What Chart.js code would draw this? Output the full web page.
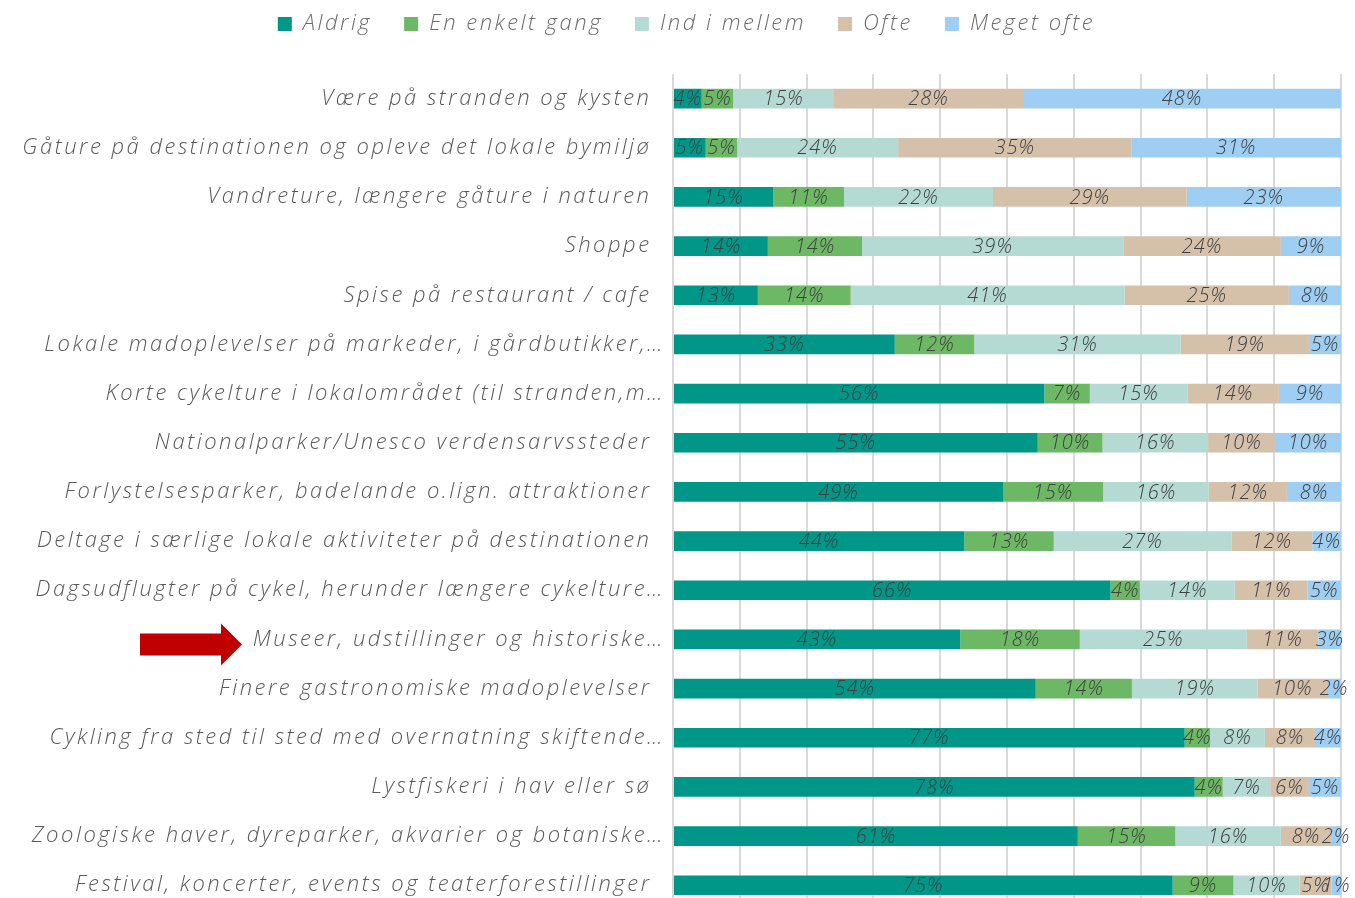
<!DOCTYPE html>
<html lang="da">
<head>
    <meta charset="UTF-8">
    <title>Aktiviteter på ferien</title>
    <script src="https://cdn.jsdelivr.net/npm/chart.js"></script>
    <style>
        html, body {
            margin: 0;
            padding: 0;
            background: #ffffff;
            overflow: hidden;
        }
        canvas {
            display: block;
        }
    </style>
</head>
<body>

    <canvas id="activityChart" width="1355" height="923"></canvas>

    <script>
        const categories = [
            'Være på stranden og kysten',
            'Gåture på destinationen og opleve det lokale bymiljø',
            'Vandreture, længere gåture i naturen',
            'Shoppe',
            'Spise på restaurant / cafe',
            'Lokale madoplevelser på markeder, i gårdbutikker,…',
            'Korte cykelture i lokalområdet (til stranden,m…',
            'Nationalparker/Unesco verdensarvssteder',
            'Forlystelsesparker, badelande o.lign. attraktioner',
            'Deltage i særlige lokale aktiviteter på destinationen',
            'Dagsudflugter på cykel, herunder længere cykelture…',
            'Museer, udstillinger og historiske…',
            'Finere gastronomiske madoplevelser',
            'Cykling fra sted til sted med overnatning skiftende…',
            'Lystfiskeri i hav eller sø',
            'Zoologiske haver, dyreparker, akvarier og botaniske…',
            'Festival, koncerter, events og teaterforestillinger'
        ];

        const seriesNames = ['Aldrig', 'En enkelt gang', 'Ind i mellem', 'Ofte', 'Meget ofte'];

        // andel i procent, læst af grafen
        const aldrig      = [4.3, 4.9, 15.0, 14.2, 12.7, 33.2, 55.6, 54.6, 49.4, 43.6, 65.5, 43.0, 54.3, 76.6, 78.1, 60.6, 74.8];
        const enkeltGang  = [4.7, 4.7, 10.6, 14.1, 13.9, 11.9, 6.8, 9.7, 15.0, 13.4, 4.4, 17.9, 14.4, 3.8, 4.2, 14.6, 9.1];
        const indIMellem  = [15.1, 24.1, 22.3, 39.1, 41.0, 30.9, 14.6, 15.8, 15.8, 26.6, 14.2, 25.0, 18.8, 8.2, 7.1, 15.8, 9.9];
        const ofte        = [28.3, 34.9, 29.0, 23.6, 24.6, 19.2, 13.7, 10.0, 11.7, 12.1, 10.9, 10.7, 10.4, 7.5, 5.8, 7.5, 4.8];
        const megetOfte   = [47.6, 31.4, 23.1, 9.0, 7.8, 4.8, 9.3, 9.9, 8.1, 4.3, 5.0, 3.4, 2.1, 3.9, 4.8, 1.5, 1.4];

        const xTicks = [0, 10, 20, 30, 40, 50, 60, 70, 80, 90, 100];

        const colors = ['#009688', '#6db865', '#b4dad3', '#d5c0aa', '#9ecef1'];
        const fontFamily = "'Open Sans', 'Noto Sans', sans-serif";

        // bredere tekst, lidt i stil med Montserrat (canvas nulstilles ved resize, så sæt det igen)
        const wideText = {
            id: 'wideText',
            beforeLayout(chart) {
                chart.ctx.letterSpacing = '2.5px';
            },
            beforeDraw(chart) {
                chart.ctx.letterSpacing = '2.5px';
            }
        };

        // tal i midten af hvert segment
        const segmentLabels = {
            id: 'segmentLabels',
            afterDatasetsDraw(chart) {
                const ctx = chart.ctx;
                ctx.save();
                ctx.letterSpacing = '1px';
                ctx.font = 'italic 300 20px ' + fontFamily;
                ctx.fillStyle = '#404040';
                ctx.textAlign = 'center';
                ctx.textBaseline = 'middle';
                chart.data.datasets.forEach((ds, i) => {
                    chart.getDatasetMeta(i).data.forEach((bar, j) => {
                        const x = (bar.x + bar.base) / 2;
                        ctx.fillText(Math.round(ds.data[j]) + '%', x, bar.y + 1);
                    });
                });
                ctx.restore();
            }
        };

        // rød pil ved "Museer..."
        const redArrow = {
            id: 'redArrow',
            afterDraw(chart) {
                const y = chart.scales.y.getPixelForValue(11) + 5;
                const ctx = chart.ctx;
                ctx.save();
                ctx.fillStyle = '#c00000';
                ctx.beginPath();
                ctx.moveTo(140, y - 11);
                ctx.lineTo(221, y - 11);
                ctx.lineTo(221, y - 21);
                ctx.lineTo(242, y);
                ctx.lineTo(221, y + 21);
                ctx.lineTo(221, y + 11);
                ctx.lineTo(140, y + 11);
                ctx.closePath();
                ctx.fill();
                ctx.restore();
            }
        };

        // fast højde på forklaringen, og skub den lidt mod højre
        const legendSpace = {
            id: 'legendSpace',
            beforeInit(chart) {
                const origFit = chart.legend.fit;
                chart.legend.fit = function () {
                    origFit.bind(chart.legend)();
                    this.height = 93;
                };
            },
            afterLayout(chart) {
                chart.legend.left += 16;
                chart.legend.right += 16;
            }
        };

        new Chart(document.getElementById('activityChart'), {
            type: 'bar',
            data: {
                labels: categories,
                datasets: [aldrig, enkeltGang, indIMellem, ofte, megetOfte].map((values, i) => ({
                    label: seriesNames[i],
                    data: values,
                    backgroundColor: colors[i],
                    borderWidth: 0,
                    categoryPercentage: 1,
                    barPercentage: 0.4
                }))
            },
            options: {
                indexAxis: 'y',
                responsive: false,
                animation: false,
                layout: {
                    padding: { left: 0, right: 14, top: -19, bottom: 0 }
                },
                plugins: {
                    legend: {
                        position: 'top',
                        labels: {
                            boxWidth: 14,
                            boxHeight: 14,
                            padding: 32,
                            color: '#6b6b6b',
                            font: { family: fontFamily, size: 22, style: 'italic', weight: 300 }
                        }
                    },
                    tooltip: { enabled: false }
                },
                scales: {
                    x: {
                        stacked: true,
                        min: 0,
                        max: 100,
                        afterBuildTicks(scale) {
                            scale.ticks = xTicks.map(v => ({ value: v }));
                        },
                        afterFit(scale) {
                            scale.height = 0;
                        },
                        ticks: { display: false },
                        border: { display: false },
                        grid: { color: '#d9d9d9', lineWidth: 2, drawTicks: false }
                    },
                    y: {
                        stacked: true,
                        afterFit(scale) {
                            scale.width = 673;
                        },
                        grid: { display: false },
                        border: { display: false },
                        ticks: {
                            padding: 0,
                            color: '#595959',
                            font: { family: fontFamily, size: 22, style: 'italic', weight: 300 },
                            // forkortede navne går lidt længere ud, som i originalen
                            callback(value) {
                                const name = categories[value];
                                return name.endsWith('…') ? name : name + '\u2002';
                            }
                        }
                    }
                }
            },
            plugins: [wideText, segmentLabels, redArrow, legendSpace]
        });
    </script>

</body>
</html>
